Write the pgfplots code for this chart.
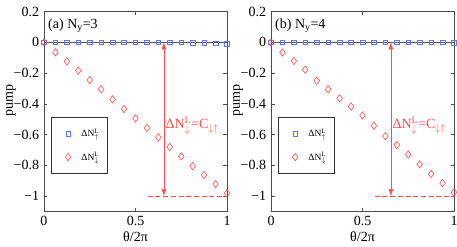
\documentclass[border=0pt]{standalone}
\usepackage{amsmath}
\usepackage{fontspec}
\setmainfont{Liberation Serif}
\usepackage{pgfplots}
\pgfplotsset{compat=1.18}
\usetikzlibrary{arrows.meta}
\definecolor{mblue}{RGB}{95,115,255}
\definecolor{mred}{RGB}{255,75,75}
\begin{document}
\fontsize{14bp}{16bp}\selectfont
\begin{tikzpicture}
\useasboundingbox (-44bp,-35.6bp) rectangle (413bp,211.4bp);
\pgfplotsset{
  myax/.style={
    scale only axis, width=183bp, height=199.8bp,
    xmin=0, xmax=1, ymin=-1.1, ymax=0.2,
    xtick={0,0.5,1}, xticklabels={0,0.5,1},
    ytick={-1,-0.8,-0.6,-0.4,-0.2,0,0.2},
    yticklabels={−1,−0.8,−0.6,−0.4,−0.2,0,0.2},
    tick align=inside, major tick length=3.5bp,
    tick style={black!70, line width=0.5bp},
    axis line style={black!70, line width=0.6bp},
    tick label style={font=\fontsize{14bp}{16bp}\selectfont},
    label style={font=\fontsize{14bp}{16bp}\selectfont},
    xlabel={θ/2π}, ylabel={pump},
    every axis x label/.style={at={(axis description cs:0.5,-0.128)}, anchor=center},
    every axis y label/.style={at={(axis description cs:-0.18,0.557)}, anchor=center, rotate=90},
    legend cell align=left,
    legend style={at={(axis cs:0.191,-0.671)}, anchor=center,
      draw=black!80, line width=0.6bp, font=\fontsize{9.5bp}{11bp}\selectfont,
      row sep=9bp, inner xsep=6bp, inner ysep=9bp},
    clip=false,
    mk/.style={legend image code/.code={\path (0bp,0bp) (22bp,0bp); \draw[##1] plot coordinates {(11bp,0bp)};}},
  }
}
\begin{axis}[myax, at={(0,0)}]
\addplot[black!65, line width=0.8bp, forget plot] coordinates {(0,0) (1,0)};
\addplot[only marks, mark=square, mark size=2.3bp, mblue, line width=0.6bp, mk] coordinates {
(0,0) (0.0625,0) (0.125,0) (0.1875,0) (0.25,0) (0.3125,0) (0.375,0) (0.4375,0) (0.5,0) (0.5625,0) (0.625,0) (0.6875,0) (0.75,0) (0.8125,-0.002) (0.875,-0.003) (0.9375,-0.005) (1,-0.01)};
\addlegendentry{$\text{ΔN}^{\text{L}}_{\uparrow}$}
\addplot[only marks, mark=diamond, mark size=3.7bp, mred, line width=0.6bp, mk] coordinates {
(0,0) (0.0625,-0.065) (0.125,-0.124) (0.1875,-0.184) (0.25,-0.245) (0.3125,-0.306) (0.375,-0.371) (0.4375,-0.434) (0.5,-0.495) (0.5625,-0.557) (0.625,-0.618) (0.6875,-0.681) (0.75,-0.742) (0.8125,-0.805) (0.875,-0.863) (0.9375,-0.922) (1,-0.983)};
\addlegendentry{$\text{ΔN}^{\text{L}}_{\downarrow}$}
\draw[mred, dash pattern=on 5bp off 2.7bp, line width=0.6bp] (axis cs:0.567,-1) -- (axis cs:1,-1);
\draw[mred, line width=0.6bp, {Latex[length=7bp,width=5bp]}-{Latex[length=7bp,width=5bp]}] (axis cs:0.655,0) -- (axis cs:0.655,-1);
\node[anchor=west, text=mred, inner sep=0pt] at (axis cs:0.663,-0.545) {ΔN$^{\text{L}}_{\downarrow}$=C$_{\downarrow\uparrow}$};
\node[anchor=west, inner sep=0pt] at (axis cs:0.022,0.11) {(a) N\textsubscript{y}=3};
\end{axis}
\begin{axis}[myax, at={(227bp,0)}]
\addplot[black!65, line width=0.8bp, forget plot] coordinates {(0,0) (1,0)};
\addplot[only marks, mark=square, mark size=2.3bp, mblue, line width=0.6bp, mk] coordinates {
(0,0) (0.0625,0) (0.125,0) (0.1875,0) (0.25,0) (0.3125,0) (0.375,0) (0.4375,0) (0.5,0) (0.5625,0) (0.625,0) (0.6875,0) (0.75,0) (0.8125,0) (0.875,0) (0.9375,0) (1,-0.002)};
\addlegendentry{$\text{ΔN}^{\text{L}}_{\uparrow}$}
\addplot[only marks, mark=diamond, mark size=3.7bp, mred, line width=0.6bp, mk] coordinates {
(0,0) (0.0625,-0.066) (0.125,-0.121) (0.1875,-0.178) (0.25,-0.25) (0.3125,-0.305) (0.375,-0.364) (0.4375,-0.418) (0.5,-0.476) (0.5625,-0.543) (0.625,-0.61) (0.6875,-0.668) (0.75,-0.73) (0.8125,-0.794) (0.875,-0.856) (0.9375,-0.916) (1,-0.976)};
\addlegendentry{$\text{ΔN}^{\text{L}}_{\downarrow}$}
\draw[mred, dash pattern=on 5bp off 2.7bp, line width=0.6bp] (axis cs:0.567,-1) -- (axis cs:1,-1);
\draw[mred, line width=0.6bp, {Latex[length=7bp,width=5bp]}-{Latex[length=7bp,width=5bp]}] (axis cs:0.655,0) -- (axis cs:0.655,-1);
\node[anchor=west, text=mred, inner sep=0pt] at (axis cs:0.663,-0.545) {ΔN$^{\text{L}}_{\downarrow}$=C$_{\downarrow\uparrow}$};
\node[anchor=west, inner sep=0pt] at (axis cs:0.022,0.11) {(b) N\textsubscript{y}=4};
\end{axis}
\end{tikzpicture}
\end{document}
